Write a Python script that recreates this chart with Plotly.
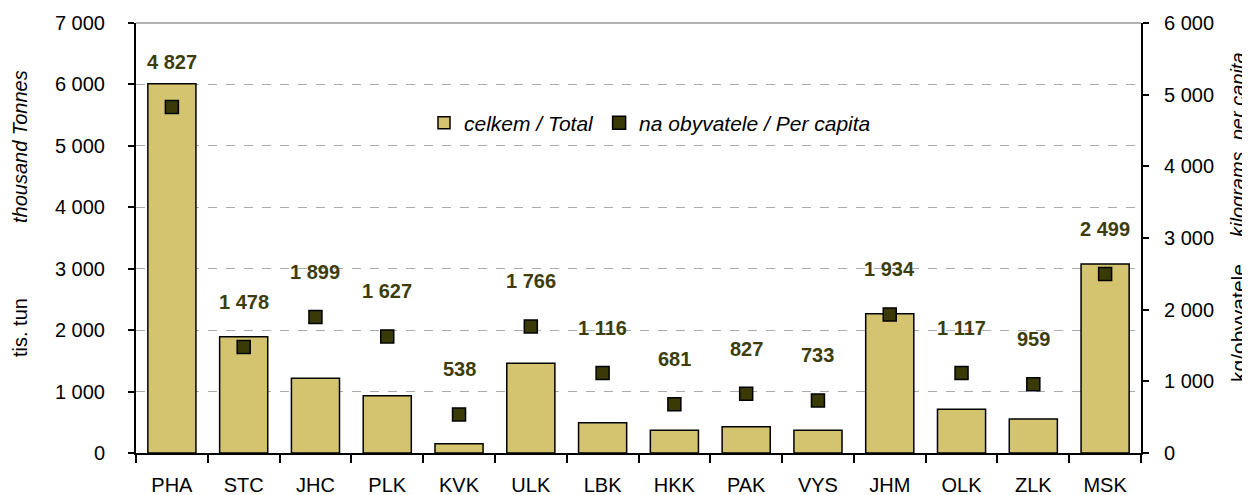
import plotly.graph_objects as go

regions = ["PHA", "STC", "JHC", "PLK", "KVK", "ULK", "LBK", "HKK", "PAK", "VYS", "JHM", "OLK", "ZLK", "MSK"]
total_kt = [6010, 1893, 1216, 933, 152, 1460, 494, 369, 429, 369, 2268, 711, 553, 3077]
per_capita_kg = [4827, 1478, 1899, 1627, 538, 1766, 1116, 681, 827, 733, 1934, 1117, 959, 2499]

left_ticks = [0, 1000, 2000, 3000, 4000, 5000, 6000, 7000]
right_ticks = [0, 1000, 2000, 3000, 4000, 5000, 6000]

FONT = "Liberation Sans, Arial, sans-serif"
BAR_COLOR = "#d4c470"
MARK_COLOR = "#3a3a06"
LABEL_COLOR = "#3d3d0c"

# page body has an 8px margin: figure is drawn offset by (8, 8)
OFF = 8
W, H = 1250 - OFF, 495 - OFF
L, T = 136 - OFF, 23 - OFF
R = W - (1141 - OFF)
B = H - (453 - OFF)
pw, ph = W - L - R, H - T - B


def px_x(p):
    return (p - OFF - L) / pw


def px_y(p):
    return 1 - (p - OFF - T) / ph


fig = go.Figure()
fig.add_trace(go.Bar(
    x=regions, y=total_kt, name="celkem / Total",
    marker=dict(color=BAR_COLOR, line=dict(color="black", width=1.5)),
    yaxis="y",
))
fig.add_trace(go.Scatter(
    x=regions, y=per_capita_kg, name="na obyvatele / Per capita",
    mode="markers",
    marker=dict(symbol="square", size=13, color=MARK_COLOR, line=dict(color="black", width=1.5)),
    yaxis="y2",
))

for r, v in zip(regions, per_capita_kg):
    fig.add_annotation(
        x=r, y=v, xref="x", yref="y2", text="<b>%s</b>" % f"{v:,}".replace(",", " "),
        showarrow=False, yshift=45, xanchor="center", yanchor="middle",
        font=dict(family=FONT, size=20, color=LABEL_COLOR),
    )

titles = [
    ("<i>thousand Tonnes</i>", 20, 147, 20),
    ("tis. tun", 20, 328, 20),
    ("<i>kilograms  per capita</i>", 1238, 145, 20),
    ("kg/obyvatele", 1238, 323, 21),
]
for txt, x, y, fs in titles:
    fig.add_annotation(x=px_x(x), y=px_y(y), xref="paper", yref="paper", text=txt,
                       showarrow=False, textangle=-90, xanchor="center", yanchor="middle",
                       font=dict(family=FONT, size=fs, color="black"))

# white block behind legend hiding the gridline, plus top border line
fig.add_shape(type="rect", xref="paper", yref="paper",
              x0=px_x(412), x1=px_x(917), y0=px_y(158), y1=px_y(92),
              fillcolor="white", line=dict(width=0), layer="below")
fig.add_shape(type="line", xref="paper", yref="paper", x0=0, x1=1, y0=1, y1=1,
              line=dict(color="#9a9a9a", width=1.5))

fig.update_layout(
    width=W, height=H,
    margin=dict(l=L, r=R, t=T, b=B, autoexpand=False),
    paper_bgcolor="white", plot_bgcolor="white",
    separators=", ",
    bargap=0.33,
    showlegend=True,
    legend=dict(orientation="h", x=px_x(650), xanchor="center",
                y=px_y(123), yanchor="middle",
                bgcolor="rgba(255,255,255,0)",
                font=dict(family=FONT, size=21, color="black", style="italic"),
                itemwidth=30, tracegroupgap=0),
    font=dict(family=FONT, size=20, color="black"),
    xaxis=dict(
        type="category", range=[-0.5, len(regions) - 0.5],
        showline=True, linecolor="black", linewidth=2,
        ticks="outside", ticklen=8, tickcolor="black", tickwidth=1.5,
        tickson="boundaries", showgrid=False, automargin=False,
        tickfont=dict(family=FONT, size=20, color="black"),
        ticklabelstandoff=13,
    ),
    yaxis=dict(
        range=[0, 7000], tickvals=left_ticks, tickformat=",d",
        showline=True, linecolor="black", linewidth=2,
        ticks="outside", ticklen=6, tickcolor="black", tickwidth=1.5,
        showgrid=True, gridcolor="#ababab", griddash="dash", gridwidth=1.2,
        zeroline=False, automargin=False,
        tickfont=dict(family=FONT, size=20, color="black"),
        ticklabelstandoff=19,
    ),
    yaxis2=dict(
        range=[0, 6000], tickvals=right_ticks, tickformat=",d",
        overlaying="y", side="right",
        showline=True, linecolor="black", linewidth=2,
        ticks="outside", ticklen=6, tickcolor="black", tickwidth=1.5,
        showgrid=False, zeroline=False, automargin=False,
        tickfont=dict(family=FONT, size=20, color="black"),
        ticklabelstandoff=11,
    ),
)

fig.write_html("out.html")
